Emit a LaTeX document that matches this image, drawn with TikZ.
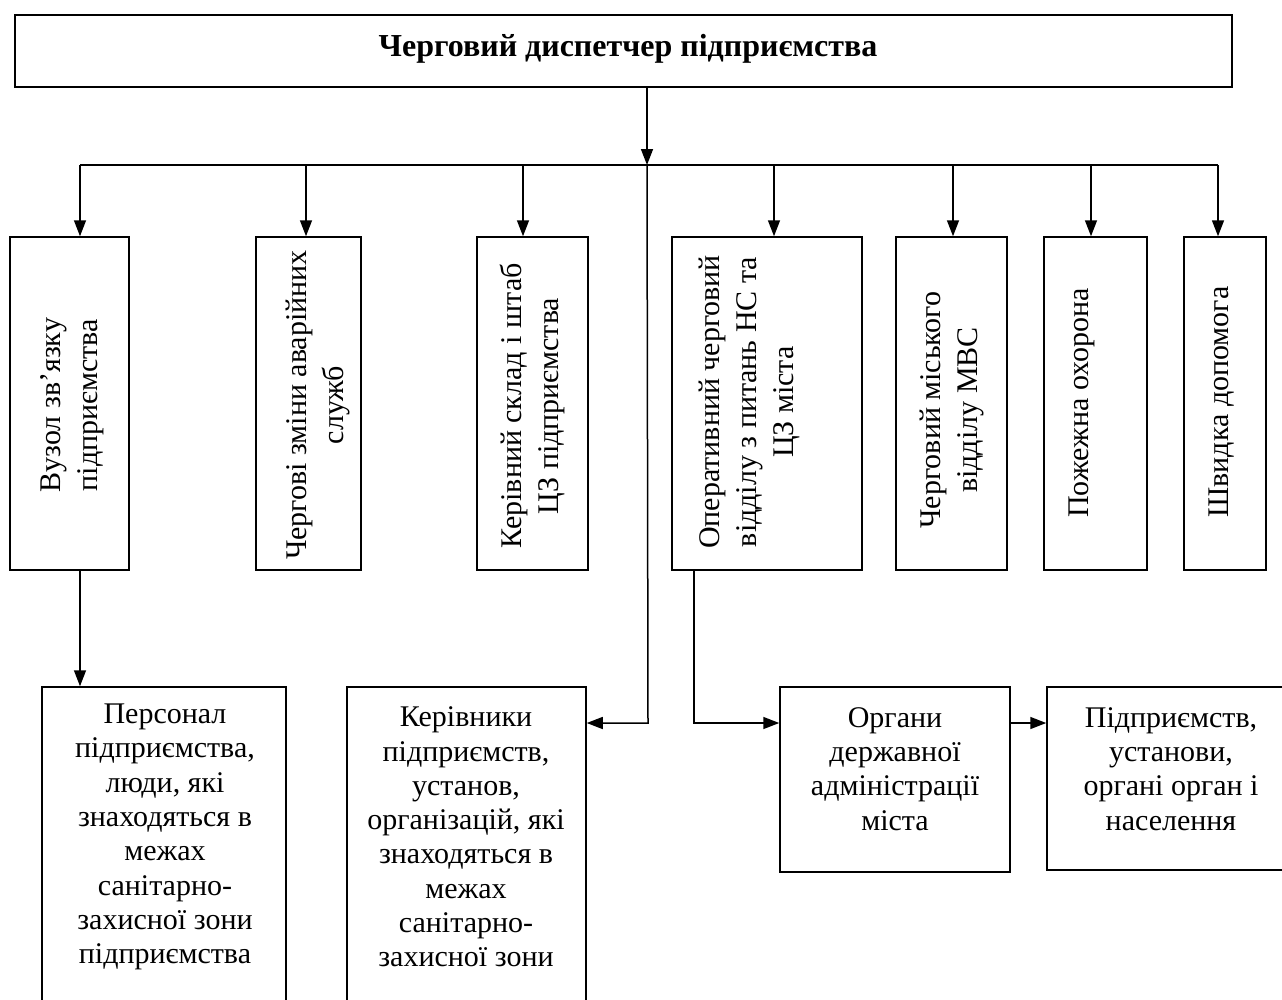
\documentclass[tikz,border=0pt]{standalone}
\usepackage{fontspec}
\setmainfont{Liberation Serif}
\usetikzlibrary{arrows.meta}
\begin{document}
\begin{tikzpicture}[x=1pt,y=-1pt,
  box/.style={draw, line width=1.5pt, rectangle, inner sep=0pt},
  arr/.style={line width=1.5pt, -{Triangle[length=16pt,width=12pt]}},
  ln/.style={line width=1.5pt},
  vtext/.style={rotate=90, align=center, inner sep=0pt, font=\fontsize{30}{37}\selectfont},
  btext/.style={align=center, inner sep=0pt, font=\fontsize{30}{34.3}\selectfont},
  title/.style={inner sep=0pt, font=\fontsize{32}{38}\selectfont\bfseries}]
\useasboundingbox (0,0) rectangle (1282,999);
\clip (0,0) rectangle (1282,999);
% top box
\node[box, minimum width=1217pt, minimum height=72pt] (top) at (623.5,51) {};
\node[title] (toptext) at (628,49) {Черговий диспетчер підприємства};
% top-row boxes
\node[box, minimum width=119pt, minimum height=333pt] (b1) at (69.5,403.5) {};
\node[box, minimum width=105pt, minimum height=333pt] (b2) at (308.5,403.5) {};
\node[box, minimum width=111pt, minimum height=333pt] (b3) at (532.5,403.5) {};
\node[box, minimum width=190pt, minimum height=333pt] (b4) at (767,403.5) {};
\node[box, minimum width=111pt, minimum height=333pt] (b5) at (951.5,403.5) {};
\node[box, minimum width=103pt, minimum height=333pt] (b6) at (1095.5,403.5) {};
\node[box, minimum width=82pt, minimum height=333pt] (b7) at (1225,403.5) {};
\node[vtext] (t1) at (72,405) {Вузол зв’язку\\підприємства};
\node[vtext] (t2) at (318,405) {Чергові зміни аварійних\\служб};
\node[vtext] (t3) at (532,406) {Керівний склад і штаб\\ЦЗ підприємства};
\node[vtext] (t4) at (749,402) {Оперативний черговий\\відділу з питань НС та\\ЦЗ міста};
\node[vtext] (t5) at (952,410) {Черговий міського\\відділу МВС};
\node[vtext] (t6) at (1082,403) {Пожежна охорона};
\node[vtext] (t7) at (1222,402) {Швидка допомога};
% bottom boxes
\node[box, minimum width=244pt, minimum height=330pt] (p1) at (164,852) {};
\node[box, minimum width=239pt, minimum height=330pt] (p2) at (466.5,852) {};
\node[box, minimum width=230pt, minimum height=185pt] (p3) at (895,779.5) {};
\node[box, minimum width=248pt, minimum height=183pt] (p4) at (1171,778.5) {};
\node[btext] (s1) at (165,837) {Персонал\\підприємства,\\люди, які\\знаходяться в\\межах\\санітарно-\\захисної зони\\підприємства};
\node[btext] (s2) at (466,837) {Керівники\\підприємств,\\установ,\\організацій, які\\знаходяться в\\межах\\санітарно-\\захисної зони};
\node[btext] (s3) at (895,769) {Органи\\державної\\адміністрації\\міста};
\node[btext] (s4) at (1171,769) {Підприємств,\\установи,\\органі орган і\\населення};
% connectors
\coordinate (j) at (647,165);
\coordinate (bl) at (80,165);
\coordinate (br) at (1218,165);
\coordinate (k) at (648,723);
\coordinate (m) at (694,723);
\draw[arr] (top.south -| j) -- (j);
\draw[ln] (bl) -- (br);
\draw[arr] (bl) -- (bl |- b1.north);
\draw[arr] (306,165) -- (306,165 |- b2.north);
\draw[arr] (523,165) -- (523,165 |- b3.north);
\draw[arr] (774,165) -- (774,165 |- b4.north);
\draw[arr] (953,165) -- (953,165 |- b5.north);
\draw[arr] (1091,165) -- (1091,165 |- b6.north);
\draw[arr] (br) -- (br |- b7.north);
\draw[arr] (b1.south -| bl) -- (p1.north -| bl);
\draw[arr] (j) -- (k) -- (k -| p2.east);
\draw[arr] (b4.south -| m) -- (m) -- (m -| p3.west);
\draw[arr] (p3.east |- m) -- (p4.west |- m);
\end{tikzpicture}
\end{document}
